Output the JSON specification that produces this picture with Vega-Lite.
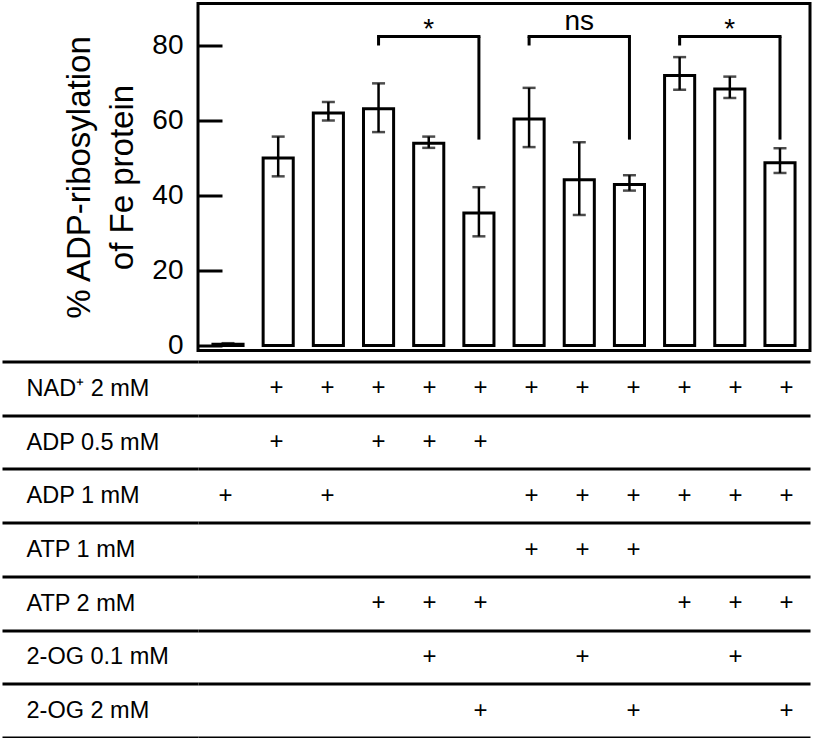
{
  "$schema": "https://vega.github.io/schema/vega-lite/v6.json",
  "padding": {"top": 1.5, "left": 0, "right": 0, "bottom": 0},
  "background": "white",
  "align": "each",
  "bounds": "flush",
  "spacing": 11,
  "config": {
    "font": "Liberation Sans",
    "view": {"stroke": "black", "strokeWidth": 3}
  },
  "datasets": {
    "bars": [
      {"col": 1, "mean": 0.3, "lo": 0.0, "hi": 0.6},
      {"col": 2, "mean": 50.0, "lo": 45.1, "hi": 55.7},
      {"col": 3, "mean": 62.0, "lo": 60.0, "hi": 64.9},
      {"col": 4, "mean": 63.1, "lo": 56.9, "hi": 69.9},
      {"col": 5, "mean": 53.9, "lo": 52.7, "hi": 55.7},
      {"col": 6, "mean": 35.3, "lo": 29.1, "hi": 42.2},
      {"col": 7, "mean": 60.4, "lo": 52.9, "hi": 68.7},
      {"col": 8, "mean": 44.2, "lo": 34.8, "hi": 54.2},
      {"col": 9, "mean": 42.9, "lo": 41.3, "hi": 45.4},
      {"col": 10, "mean": 72.0, "lo": 68.2, "hi": 76.9},
      {"col": 11, "mean": 68.4, "lo": 66.0, "hi": 71.7},
      {"col": 12, "mean": 48.7, "lo": 46.0, "hi": 52.6}
    ],
    "brackets": [
      {"a": 4, "b": 6, "mid": 5, "label": "*", "top": 82.4, "aEnd": 80, "bEnd": 54.9, "labelY": 84},
      {"a": 7, "b": 9, "mid": 8, "label": "ns", "top": 82.4, "aEnd": 80, "bEnd": 54.9, "labelY": 84},
      {"a": 10, "b": 12, "mid": 11, "label": "*", "top": 82.4, "aEnd": 80, "bEnd": 54.9, "labelY": 84}
    ],
    "table": [
      {"col": 2, "cond": "NAD⁺ 2 mM"}, {"col": 3, "cond": "NAD⁺ 2 mM"}, {"col": 4, "cond": "NAD⁺ 2 mM"},
      {"col": 5, "cond": "NAD⁺ 2 mM"}, {"col": 6, "cond": "NAD⁺ 2 mM"}, {"col": 7, "cond": "NAD⁺ 2 mM"},
      {"col": 8, "cond": "NAD⁺ 2 mM"}, {"col": 9, "cond": "NAD⁺ 2 mM"}, {"col": 10, "cond": "NAD⁺ 2 mM"},
      {"col": 11, "cond": "NAD⁺ 2 mM"}, {"col": 12, "cond": "NAD⁺ 2 mM"},
      {"col": 2, "cond": "ADP 0.5 mM"}, {"col": 4, "cond": "ADP 0.5 mM"}, {"col": 5, "cond": "ADP 0.5 mM"},
      {"col": 6, "cond": "ADP 0.5 mM"},
      {"col": 1, "cond": "ADP 1 mM"}, {"col": 3, "cond": "ADP 1 mM"}, {"col": 7, "cond": "ADP 1 mM"},
      {"col": 8, "cond": "ADP 1 mM"}, {"col": 9, "cond": "ADP 1 mM"}, {"col": 10, "cond": "ADP 1 mM"},
      {"col": 11, "cond": "ADP 1 mM"}, {"col": 12, "cond": "ADP 1 mM"},
      {"col": 7, "cond": "ATP 1 mM"}, {"col": 8, "cond": "ATP 1 mM"}, {"col": 9, "cond": "ATP 1 mM"},
      {"col": 4, "cond": "ATP 2 mM"}, {"col": 5, "cond": "ATP 2 mM"}, {"col": 6, "cond": "ATP 2 mM"},
      {"col": 10, "cond": "ATP 2 mM"}, {"col": 11, "cond": "ATP 2 mM"}, {"col": 12, "cond": "ATP 2 mM"},
      {"col": 5, "cond": "2-OG 0.1 mM"}, {"col": 8, "cond": "2-OG 0.1 mM"}, {"col": 11, "cond": "2-OG 0.1 mM"},
      {"col": 6, "cond": "2-OG 2 mM"}, {"col": 9, "cond": "2-OG 2 mM"}, {"col": 12, "cond": "2-OG 2 mM"}
    ]
  },
  "vconcat": [
    {
      "width": 612,
      "height": 347,
      "layer": [
        {
          "data": {"name": "bars"},
          "mark": {"type": "bar", "fill": "white", "stroke": "black", "strokeWidth": 3},
          "encoding": {
            "x": {"field": "col", "type": "ordinal", "scale": {"domain": [1,2,3,4,5,6,7,8,9,10,11,12], "paddingInner": 0.4, "paddingOuter": 0.298}, "axis": null},
            "y": {
              "field": "mean", "type": "quantitative",
              "scale": {"domain": [-1.35, 91.2], "nice": false, "zero": false},
              "axis": {
                "values": [0, 20, 40, 60, 80],
                "tickSize": -24, "tickWidth": 3, "tickColor": "black",
                "domain": false, "grid": false,
                "labelFontSize": 28, "labelColor": "black", "labelPadding": 39,
                "title": ["% ADP-ribosylation", "of Fe protein"],
                "titleFontSize": 33, "titleFontWeight": "normal", "titleColor": "black",
                "titleLineHeight": 43, "titlePadding": 12
              }
            },
            "y2": {"datum": 0}
          }
        },
        {
          "data": {"name": "bars"},
          "mark": {"type": "rule", "strokeWidth": 2.5, "color": "black"},
          "encoding": {
            "x": {"field": "col", "type": "ordinal"},
            "y": {"field": "lo", "type": "quantitative"},
            "y2": {"field": "hi"}
          }
        },
        {
          "data": {"name": "bars"},
          "mark": {"type": "tick", "orient": "horizontal", "size": 13, "thickness": 2.5, "color": "black"},
          "encoding": {
            "x": {"field": "col", "type": "ordinal"},
            "y": {"field": "lo", "type": "quantitative"}
          }
        },
        {
          "data": {"name": "bars"},
          "mark": {"type": "tick", "orient": "horizontal", "size": 13, "thickness": 2.5, "color": "black"},
          "encoding": {
            "x": {"field": "col", "type": "ordinal"},
            "y": {"field": "hi", "type": "quantitative"}
          }
        },
        {
          "data": {"name": "brackets"},
          "mark": {"type": "rule", "strokeWidth": 3, "color": "black", "strokeCap": "square"},
          "encoding": {
            "x": {"field": "a", "type": "ordinal"},
            "x2": {"field": "b"},
            "y": {"field": "top", "type": "quantitative"}
          }
        },
        {
          "data": {"name": "brackets"},
          "mark": {"type": "rule", "strokeWidth": 3, "color": "black"},
          "encoding": {
            "x": {"field": "a", "type": "ordinal"},
            "y": {"field": "top", "type": "quantitative"},
            "y2": {"field": "aEnd"}
          }
        },
        {
          "data": {"name": "brackets"},
          "mark": {"type": "rule", "strokeWidth": 3, "color": "black"},
          "encoding": {
            "x": {"field": "b", "type": "ordinal"},
            "y": {"field": "top", "type": "quantitative"},
            "y2": {"field": "bEnd"}
          }
        },
        {
          "data": {"name": "brackets"},
          "transform": [{"filter": "datum.label === 'ns'"}],
          "mark": {"type": "text", "fontSize": 28, "color": "black", "baseline": "alphabetic"},
          "encoding": {
            "x": {"field": "mid", "type": "ordinal"},
            "y": {"field": "labelY", "type": "quantitative"},
            "text": {"field": "label"}
          }
        },
        {
          "data": {"name": "brackets"},
          "transform": [{"filter": "datum.label === '*'"}],
          "mark": {"type": "text", "fontSize": 28, "color": "black", "baseline": "alphabetic", "dy": 8},
          "encoding": {
            "x": {"field": "mid", "type": "ordinal"},
            "y": {"field": "labelY", "type": "quantitative"},
            "text": {"field": "label"}
          }
        }
      ]
    },
    {
      "width": 612,
      "height": 376,
      "view": {"stroke": null},
      "data": {"name": "table"},
      "mark": {"type": "text", "text": "+", "fontSize": 24, "color": "black", "dx": 2},
      "encoding": {
        "x": {"field": "col", "type": "ordinal", "scale": {"domain": [1,2,3,4,5,6,7,8,9,10,11,12], "paddingInner": 0.4, "paddingOuter": 0.298}, "axis": null},
        "y": {
          "field": "cond", "type": "nominal",
          "sort": ["NAD⁺ 2 mM", "ADP 0.5 mM", "ADP 1 mM", "ATP 1 mM", "ATP 2 mM", "2-OG 0.1 mM", "2-OG 2 mM"],
          "axis": {
            "title": null, "domain": false,
            "tickBand": "extent", "tickSize": 196, "tickWidth": 3, "tickColor": "black",
            "grid": true, "gridColor": "black", "gridWidth": 3, "gridOpacity": 1,
            "labelAlign": "left", "labelBaseline": "middle", "labelPadding": -24,
            "labelFontSize": 23.5, "labelColor": "black", "labelLimit": 300
          }
        }
      }
    }
  ]
}
